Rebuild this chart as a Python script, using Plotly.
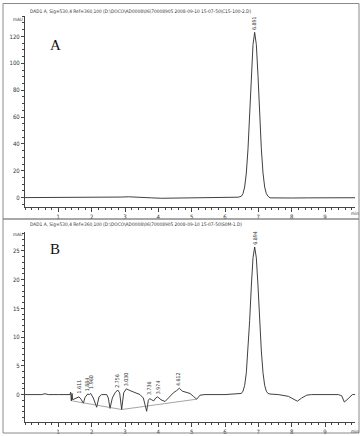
import plotly.graph_objects as go

W, H = 362, 436

# ---------------- data ----------------
a_time = [0, 0.5, 1.0, 1.5, 2.0, 2.5, 2.9, 3.1, 3.3, 3.5, 3.8, 4.1, 4.3, 4.5, 5.0, 5.5, 6.0, 6.4,
          6.49, 6.54, 6.59, 6.64, 6.69, 6.74, 6.79, 6.84, 6.89, 6.94, 6.99, 7.04, 7.09, 7.14, 7.19, 7.24, 7.29,
          7.35, 7.5, 8.0, 8.5, 9.0, 9.5, 9.9]
a_signal = [0, 0, 0, 0, 0, 0.1, 0.4, 0.6, 0.5, 0.2, -0.2, -0.5, -0.4, -0.1, 0, 0, 0.1, 0.3,
            1.0, 3.0, 7.9, 18.3, 36.3, 61.9, 90.7, 113.9, 123.0, 113.9, 90.7, 61.9, 36.3, 18.3, 7.9, 3.0, 1.0,
            -0.2, -0.3, -0.3, -0.2, -0.2, -0.1, -0.1]

b_time = [0, 0.5, 0.6, 0.7, 1.0, 1.35, 1.37, 1.39, 1.41, 1.43, 1.5, 1.56, 1.62, 1.68, 1.75, 1.8, 1.88, 1.93,
          1.97, 2.05, 2.15, 2.22, 2.3, 2.45, 2.5, 2.55, 2.62, 2.7, 2.78, 2.84, 2.9, 2.96, 3.04, 3.15, 3.3,
          3.45, 3.55, 3.65, 3.7, 3.74, 3.8, 3.86, 3.92, 3.98, 4.08, 4.2, 4.3, 4.45, 4.55, 4.63, 4.72, 4.85,
          4.95, 5.05, 5.15, 5.25, 5.4, 6.0, 6.4,
          6.49, 6.54, 6.59, 6.64, 6.69, 6.74, 6.79, 6.84, 6.89, 6.94, 6.99, 7.04, 7.09, 7.14, 7.19, 7.24, 7.29,
          7.35, 7.6, 7.9, 8.05, 8.17, 8.3, 8.45, 8.6, 9.0, 9.4, 9.5, 9.58, 9.66, 9.75, 9.82, 9.9]
b_signal = [0, 0, 0.15, 0, 0, 0, 0.4, -1.1, 0.2, -0.9, -0.7, -0.6, -0.4, -0.8, -1.5, -0.5, 0.1, 0.0,
            0.2, -0.6, -2.2, -0.4, 0.0, 0.0, -0.6, -2.4, -0.6, 0.3, 0.8, 0.3, -2.6, 0.3, 1.0, 0.7, 0.4,
            0.0, -0.6, -2.9, -1.0, -0.7, -0.9, -1.1, -0.6, -0.4, -0.9, -1.2, -0.6, 0.3, 0.7, 1.1, 0.6, 0.3,
            0.2, -0.3, -0.8, -0.1, 0.0, 0.0, 0.1,
            0.2, 0.6, 1.6, 3.8, 7.6, 12.9, 18.9, 23.8, 25.7, 23.8, 18.9, 12.9, 7.6, 3.8, 1.6, 0.6, 0.2,
            0.1, 0.0, -0.3, -0.8, -1.15, -0.6, -0.1, 0.0, 0.05, 0.0, -0.2, -1.3, -0.9, -0.3, 0.0, 0.0]

# integration baseline segments (panel B)
b_base_time = [1.42, 2.9, 5.15]
b_base_signal = [-1.1, -2.6, -0.8]

# peak labels
a_peak_times = [6.891]
a_peak_heights = [123.0]
a_peak_labels = ["6.891"]

b_peak_times = [1.611, 1.884, 1.960, 2.756, 3.030, 3.736, 3.974, 4.612, 6.894]
b_peak_heights = [-0.2, 0.2, 0.7, 0.8, 1.1, -0.5, -0.2, 1.1, 25.7]
b_peak_labels = ["1.611", "1.884", "1.960", "2.756", "3.030", "3.736", "3.974", "4.612", "6.894"]

x_ticks = [1, 2, 3, 4, 5, 6, 7, 8, 9]
a_y_ticks = [0, 20, 40, 60, 80, 100, 120]
b_y_ticks = [0, 5, 10, 15, 20, 25]

title_a = "DAD1 A, Sig=530,4 Ref=360,100 (D:\\DOCO\\AD0008\\06\\70008905 2008-09-10 15-07-50\\C15-100-2.D)"
title_b = "DAD1 A, Sig=530,4 Ref=360,100 (D:\\DOCO\\AD0008\\06\\70008905 2008-09-10 15-07-50\\S0M-1.D)"

# ---------------- layout helpers ----------------
def px(x):
    return x / W

def py(y):
    return 1 - y / H

FONT = "Liberation Sans Narrow, DejaVu Sans Condensed, Liberation Sans, sans-serif"
LINE = "#2a2a2a"
AX = "#444444"

fig = go.Figure()
fig.add_trace(go.Scatter(x=a_time, y=a_signal, mode="lines", xaxis="x", yaxis="y",
                         line=dict(color=LINE, width=0.9), hoverinfo="skip"))
fig.add_trace(go.Scatter(x=b_time, y=b_signal, mode="lines", xaxis="x2", yaxis="y2",
                         line=dict(color=LINE, width=0.9), hoverinfo="skip"))
fig.add_trace(go.Scatter(x=b_base_time, y=b_base_signal, mode="lines", xaxis="x2", yaxis="y2",
                         line=dict(color="#666666", width=0.6), hoverinfo="skip"))

xr = [0, 9.9]
xdom = [px(25), px(355)]
common_x = dict(range=xr, domain=xdom, showgrid=False, zeroline=False, showline=True,
                linecolor=AX, linewidth=1, ticks="outside", ticklen=4, tickcolor=AX,
                tickvals=x_ticks, ticktext=[str(v) for v in x_ticks],
                tickfont=dict(family=FONT, size=6, color="#333"),
                minor=dict(dtick=0.2, tick0=0, ticks="outside", ticklen=2, tickcolor=AX))
common_y = dict(showgrid=False, zeroline=False, showline=True, linecolor=AX, linewidth=1,
                ticks="outside", ticklen=3, tickcolor=AX,
                tickfont=dict(family=FONT, size=6, color="#333"))

fig.update_layout(
    width=W, height=H, margin=dict(l=0, r=0, t=0, b=0),
    paper_bgcolor="white", plot_bgcolor="white", showlegend=False,
    xaxis=dict(common_x, anchor="y"),
    yaxis=dict(common_y, anchor="x", domain=[py(207), py(16)], range=[-7.0, 135.2],
               tickvals=a_y_ticks, ticktext=[str(v) for v in a_y_ticks],
               minor=dict(dtick=5, tick0=0, ticks="outside", ticklen=2, tickcolor=AX)),
    xaxis2=dict(common_x, anchor="y2"),
    yaxis2=dict(common_y, anchor="x2", domain=[py(422), py(232)], range=[-4.77, 28.3],
                tickvals=b_y_ticks, ticktext=[str(v) for v in b_y_ticks],
                minor=dict(dtick=1, tick0=0, ticks="outside", ticklen=2, tickcolor=AX)),
)

# frames
frame = dict(type="rect", xref="paper", yref="paper", line=dict(color="#8a8a8a", width=1),
             fillcolor="rgba(0,0,0,0)")
fig.add_shape(frame, x0=px(3), x1=px(359), y0=py(219), y1=py(3.5))
fig.add_shape(frame, x0=px(3), x1=px(359), y0=py(433), y1=py(219))

ann = []
# titles
ann.append(dict(text=title_a, x=px(28), y=py(11), xref="paper", yref="paper", xanchor="left",
                yanchor="middle", showarrow=False, font=dict(family=FONT, size=4.8, color="#333")))
ann.append(dict(text=title_b, x=px(28), y=py(225), xref="paper", yref="paper", xanchor="left",
                yanchor="middle", showarrow=False, font=dict(family=FONT, size=4.8, color="#333")))
# units
for yy in (20, 234.5):
    ann.append(dict(text="mAU", x=px(17.5), y=py(yy), xref="paper", yref="paper", xanchor="center",
                    yanchor="middle", showarrow=False, font=dict(family=FONT, size=4.6, color="#333")))
for yy in (213.5, 431):
    ann.append(dict(text="min", x=px(355), y=py(yy), xref="paper", yref="paper", xanchor="center",
                    yanchor="middle", showarrow=False, font=dict(family=FONT, size=4.6, color="#333")))
# panel letters
ann.append(dict(text="A", x=px(48), y=py(35), xref="paper", yref="paper", showarrow=False,
                font=dict(family="Liberation Serif, serif", size=15, color="#111")))
ann.append(dict(text="B", x=px(48), y=py(249), xref="paper", yref="paper", showarrow=False,
                font=dict(family="Liberation Serif, serif", size=15, color="#111")))
# peak labels
for t, h, s in zip(a_peak_times, a_peak_heights, a_peak_labels):
    ann.append(dict(text=s, x=t, y=h, xref="x", yref="y", textangle=-90, xanchor="center",
                    yanchor="bottom", yshift=0, showarrow=False,
                    font=dict(family=FONT, size=5.3, color="#333")))
for t, h, s in zip(b_peak_times, b_peak_heights, b_peak_labels):
    ann.append(dict(text=s, x=t, y=h, xref="x2", yref="y2", textangle=-90, xanchor="center",
                    yanchor="bottom", yshift=0, showarrow=False,
                    font=dict(family=FONT, size=5.3, color="#333")))
fig.update_layout(annotations=ann)

fig.write_html("out.html")
